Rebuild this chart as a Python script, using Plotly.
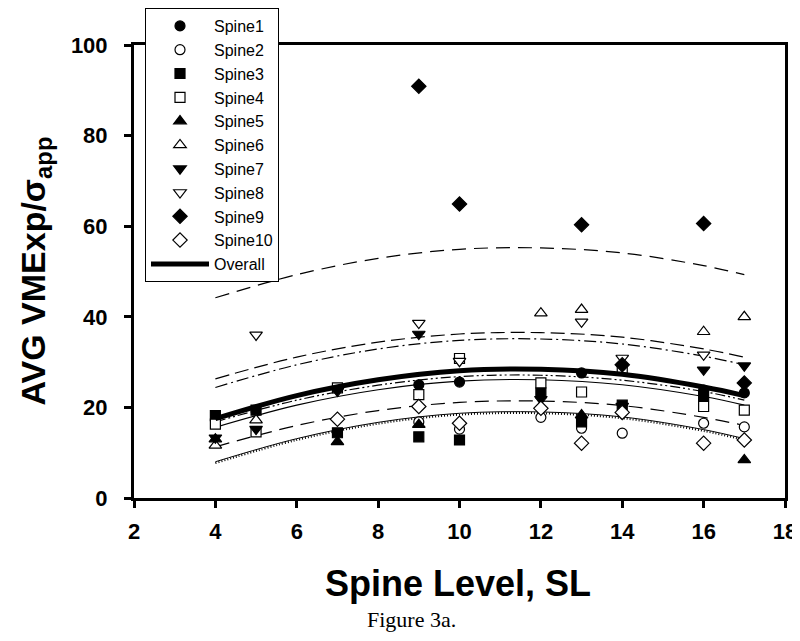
import plotly.graph_objects as go

# ---------------- data ----------------
spine1_x = [9, 10, 13, 16, 17]
spine1_y = [25.0, 25.6, 27.6, 23.8, 23.2]
spine2_x = [9, 10, 12, 13, 14, 16, 17]
spine2_y = [16.8, 15.2, 17.8, 15.4, 14.3, 16.5, 15.7]
spine3_x = [4, 5, 7, 9, 10, 12, 13, 14, 16]
spine3_y = [18.2, 19.4, 14.4, 13.5, 12.8, 23.2, 16.8, 20.5, 22.6]
spine4_x = [4, 5, 7, 9, 10, 12, 13, 14, 16, 17]
spine4_y = [16.3, 14.6, 24.3, 22.8, 30.8, 25.4, 23.4, 28.6, 20.2, 19.4]
spine5_x = [4, 7, 9, 13, 17]
spine5_y = [13.0, 12.4, 16.2, 18.3, 8.4]
spine6_x = [4, 5, 12, 13, 16, 17]
spine6_y = [11.6, 17.2, 40.8, 41.6, 36.7, 40.0]
spine7_x = [4, 5, 7, 9, 12, 14, 16, 17]
spine7_y = [13.3, 15.2, 23.6, 36.2, 21.8, 20.3, 28.3, 29.2]
spine8_x = [5, 9, 10, 13, 14, 16]
spine8_y = [36.0, 38.6, 30.2, 38.9, 30.9, 31.6]
spine9_x = [9, 10, 13, 14, 16, 17]
spine9_y = [90.9, 64.9, 60.3, 29.4, 60.6, 25.4]
spine10_x = [7, 9, 10, 12, 13, 14, 16, 17]
spine10_y = [17.4, 20.2, 16.5, 19.8, 12.1, 18.9, 12.1, 12.8]

# fitted curves, read at these spine levels
curve_x = [4, 6, 8, 10, 12, 14, 16, 17]
curve_top_dash = [44.2, 49.3, 52.9, 54.9, 55.2, 54.1, 51.3, 49.3]
curve_upper_dash = [26.3, 31.1, 34.4, 36.2, 36.5, 35.5, 32.9, 31.1]
curve_upper_dashdot = [24.4, 29.4, 32.9, 34.8, 35.1, 34.0, 31.3, 29.4]
curve_overall = [17.5, 22.6, 26.1, 28.1, 28.4, 27.3, 24.5, 22.6]
curve_dashdotdot = [16.8, 21.6, 24.9, 26.8, 27.1, 26.0, 23.5, 21.6]
curve_thin_solid = [15.6, 20.5, 23.9, 25.8, 26.1, 25.0, 22.4, 20.5]
curve_lower_dash = [11.3, 16.0, 19.3, 21.1, 21.4, 20.4, 17.8, 16.0]
curve_low_dot = [7.7, 12.8, 16.4, 18.4, 18.7, 17.6, 14.8, 12.8]
curve_low_solid = [8.0, 13.1, 16.7, 18.7, 19.0, 17.9, 15.1, 13.1]

spine_names = ["Spine1", "Spine2", "Spine3", "Spine4", "Spine5",
               "Spine6", "Spine7", "Spine8", "Spine9", "Spine10"]

# ---------------- figure ----------------
FONT = "Liberation Sans, Arial, sans-serif"
fig = go.Figure()

curves = [
    (curve_top_dash, dict(color="black", width=1.2, dash="14px,8px")),
    (curve_upper_dash, dict(color="black", width=1.2, dash="14px,6px")),
    (curve_upper_dashdot, dict(color="black", width=1.2, dash="12px,4px,2px,4px")),
    (curve_dashdotdot, dict(color="black", width=1.2, dash="10px,3px,2px,3px,2px,3px")),
    (curve_thin_solid, dict(color="black", width=1.2)),
    (curve_lower_dash, dict(color="black", width=1.2, dash="14px,8px")),
    (curve_low_solid, dict(color="black", width=1.0)),
    (curve_low_dot, dict(color="black", width=2.0, dash="1px,2px")),
]
for ys, ln in curves:
    fig.add_trace(go.Scatter(x=curve_x, y=ys, mode="lines", line=dict(shape="spline", **ln),
                             showlegend=False, hoverinfo="skip"))

spine_data = [
    (spine1_x, spine1_y, "circle", "black", 10),
    (spine2_x, spine2_y, "circle", "white", 10),
    (spine3_x, spine3_y, "square", "black", 10),
    (spine4_x, spine4_y, "square", "white", 10),
    (spine5_x, spine5_y, "triangle-up", "black", 11),
    (spine6_x, spine6_y, "triangle-up", "white", 11),
    (spine7_x, spine7_y, "triangle-down", "black", 11),
    (spine8_x, spine8_y, "triangle-down", "white", 11),
    (spine9_x, spine9_y, "diamond", "black", 11),
    (spine10_x, spine10_y, "diamond", "white", 11),
]
for i, (xs, ys, sym, fill, sz) in enumerate(spine_data):
    fig.add_trace(go.Scatter(
        x=xs, y=ys, mode="markers", name=spine_names[i], legendrank=i + 1,
        marker=dict(symbol=sym, color=fill, size=sz, line=dict(color="black", width=1.2)),
    ))

fig.add_trace(go.Scatter(x=curve_x, y=curve_overall, mode="lines", name="Overall",
                         legendrank=11, line=dict(color="black", width=5, shape="spline")))

axis_common = dict(showline=True, linecolor="black", linewidth=3, mirror=True,
                   ticks="outside", ticklen=7, tickwidth=3, tickcolor="black",
                   showgrid=False, zeroline=False, automargin=False,
                   tickfont=dict(family=FONT, size=22, color="black", weight="bold"))
fig.update_xaxes(range=[2, 18], tick0=2, dtick=2, ticklabelstandoff=5, **axis_common)
fig.update_yaxes(range=[0, 100], tick0=0, dtick=20, ticklabelstandoff=12, **axis_common)

# the page adds an 8px body margin, so the figure is sized to fit the 800x641 window
fig.update_layout(
    width=792, height=633,
    margin=dict(l=126, r=15, t=37, b=143, autoexpand=False),
    paper_bgcolor="white", plot_bgcolor="white",
    font=dict(family=FONT, color="black"),
    legend=dict(xref="container", yref="container", x=137 / 792, y=1.0,
                xanchor="left", yanchor="top",
                bgcolor="white", bordercolor="black", borderwidth=1,
                font=dict(family=FONT, size=16, color="black"),
                itemwidth=58, tracegroupgap=0),
    annotations=[
        dict(text="AVG VMExp/σ<sub>app</sub>", xref="paper", yref="paper",
             x=-0.152, y=0.5, xanchor="center", yanchor="middle", textangle=-90,
             showarrow=False, font=dict(family=FONT, size=34, weight="bold")),
        dict(text="Spine Level, SL", xref="paper", yref="paper",
             x=0.498, y=-0.188, xanchor="center", yanchor="middle",
             showarrow=False, font=dict(family=FONT, size=36, weight="bold")),
        dict(text="Figure 3a.", xref="paper", yref="paper",
             x=0.4255, y=-0.269, xanchor="center", yanchor="middle",
             showarrow=False, font=dict(family="Liberation Serif, Times New Roman, serif", size=22)),
    ],
)

fig.write_html("out.html")
